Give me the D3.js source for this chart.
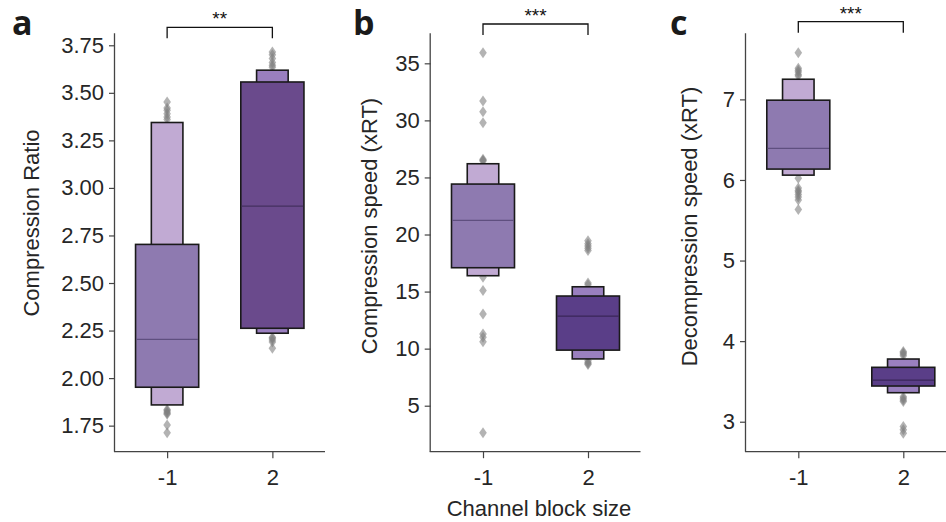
<!DOCTYPE html>
<html>
<head>
<meta charset="utf-8">
<script src="https://cdn.jsdelivr.net/npm/d3@7"></script>
<style>
  html, body { margin: 0; padding: 0; background: #fff; }
  svg { display: block; }
</style>
</head>
<body>
<svg id="chart" width="946" height="522"></svg>
<script>
// ---------------- DATA ----------------
const categories = ["-1", "2"];

// Panel a: Compression Ratio
const ratioMedian = [2.204, 2.904];
const ratioBox1 = [[1.952, 2.703], [2.262, 3.557]];
const ratioBox2 = [[1.859, 3.344], [2.236, 3.619]];
const ratioOutliers = [
  [3.452, 3.42, 3.408, 3.39, 3.373, 3.36, 1.835, 1.83, 1.822, 1.815, 1.81, 1.754, 1.713],
  [3.715, 3.70, 3.68, 3.66, 3.645, 3.635, 2.215, 2.209, 2.20, 2.19, 2.157]
];
const ratioTicks = [1.75, 2.00, 2.25, 2.50, 2.75, 3.00, 3.25, 3.50, 3.75];

// Panel b: Compression speed (xRT)
const compMedian = [21.24, 12.85];
const compBox1 = [[17.09, 24.42], [9.87, 14.61]];
const compBox2 = [[16.39, 26.2], [9.1, 15.42]];
const compOutliers = [
  [35.93, 31.7, 30.76, 29.8, 26.6, 26.5, 26.45, 16.25, 15.1, 13.03, 11.28, 11.0, 10.6, 2.63],
  [19.45, 19.2, 19.0, 18.8, 18.6, 15.75, 15.6, 8.95, 8.8, 8.7, 8.6]
];
const compTicks = [5, 10, 15, 20, 25, 30, 35];

// Panel c: Decompression speed (xRT)
const decMedian = [6.392, 3.517];
const decBox1 = [[6.135, 6.99], [3.443, 3.675]];
const decBox2 = [[6.06, 7.25], [3.36, 3.778]];
const decOutliers = [
  [7.578, 7.385, 7.36, 7.34, 7.31, 7.29, 6.02, 5.9, 5.87, 5.85, 5.82, 5.79, 5.75, 5.635],
  [3.87, 3.856, 3.84, 3.82, 3.31, 3.29, 3.27, 3.25, 2.94, 2.9, 2.856]
];
const decTicks = [3, 4, 5, 6, 7];

const yLabels = ["Compression Ratio", "Compression speed (xRT)", "Decompression speed (xRT)"];
const xLabel = "Channel block size";
const panelLetters = ["a", "b", "c"];
const sigStars = ["**", "***", "***"];

// ---------------- STYLE ----------------
const FONT = "'Liberation Sans', Arial, Helvetica, sans-serif";
const TEXT = "#262626";
const AXIS = "#444";
const boxColors = {
  a: [{ inner: "#8e7ab0", outer: "#c1aad3", med: "#5f4f7f" }, { inner: "#6a4a8c", outer: "#9a7fbf", med: "#45305f" }],
  b: [{ inner: "#8e7ab0", outer: "#c1aad3", med: "#5f4f7f" }, { inner: "#5a3e88", outer: "#9a80bf", med: "#3a2658" }],
  c: [{ inner: "#8e7ab0", outer: "#c1aad3", med: "#5f4f7f" }, { inner: "#5a3e88", outer: "#9a80bf", med: "#3a2658" }]
};

const panels = [
  { key: "a", median: ratioMedian, box1: ratioBox1, box2: ratioBox2, out: ratioOutliers, ticks: ratioTicks,
    fmt: d3.format(".2f"), yDomain: [1.613, 3.813], xRange: [114.5, 325], axisX: 115,
    label: yLabels[0], labelX: 39, labelY: 223, letterX: 12, bracketY: 27.3, starY: 25.3 },
  { key: "b", median: compMedian, box1: compBox1, box2: compBox2, out: compOutliers, ticks: compTicks,
    fmt: d3.format("d"), yDomain: [0.97, 37.63], xRange: [430.5, 640.5], axisX: 430.7,
    label: yLabels[1], labelX: 377, labelY: 226, letterX: 353, bracketY: 24, starY: 22 },
  { key: "c", median: decMedian, box1: decBox1, box2: decBox2, out: decOutliers, ticks: decTicks,
    fmt: d3.format("d"), yDomain: [2.628, 7.82], xRange: [745.8, 955.8], axisX: 746,
    label: yLabels[2], labelX: 697, labelY: 226.5, letterX: 670, bracketY: 21.7, starY: 19.6 }
];

const svg = d3.select("#chart");
const yTop = 33.3, yBottom = 451.7;

panels.forEach((p, pi) => {
  const g = svg.append("g");
  const y = d3.scaleLinear().domain(p.yDomain).range([yBottom, yTop]);
  const x = d3.scaleLinear().domain([-0.5, 1.5]).range(p.xRange);
  const band = x(1) - x(0);

  // outliers (diamonds)
  const diamond = (cx, cy) => `M${cx},${cy - 5.5}L${cx + 3.8},${cy}L${cx},${cy + 5.5}L${cx - 3.8},${cy}Z`;
  p.out.forEach((arr, ci) => {
    g.selectAll(null).data(arr).enter().append("path")
      .attr("d", v => diamond(x(ci), y(v)))
      .attr("fill", "#808080")
      .attr("fill-opacity", 0.6)
      .attr("stroke", "none");
  });

  // boxes
  categories.forEach((c, ci) => {
    const col = boxColors[p.key][ci];
    const b2 = p.box2[ci], b1 = p.box1[ci];
    const w2 = band * 0.3, w1 = band * 0.6;
    g.append("rect")
      .attr("x", x(ci) - w2 / 2).attr("width", w2)
      .attr("y", y(b2[1])).attr("height", y(b2[0]) - y(b2[1]))
      .attr("fill", col.outer).attr("stroke", "#1a1a1a").attr("stroke-width", 1.6);
    g.append("rect")
      .attr("x", x(ci) - w1 / 2).attr("width", w1)
      .attr("y", y(b1[1])).attr("height", y(b1[0]) - y(b1[1]))
      .attr("fill", col.inner).attr("stroke", "#1a1a1a").attr("stroke-width", 1.6);
    g.append("line")
      .attr("x1", x(ci) - w1 / 2 + 0.8).attr("x2", x(ci) + w1 / 2 - 0.8)
      .attr("y1", y(p.median[ci])).attr("y2", y(p.median[ci]))
      .attr("stroke", col.med).attr("stroke-width", 1.2);
  });

  // y axis
  const yAxis = d3.axisLeft(y).tickValues(p.ticks).tickFormat(p.fmt).tickSize(6).tickPadding(5);
  const ya = g.append("g").attr("transform", `translate(${p.axisX},0)`).call(yAxis);
  ya.select(".domain").attr("d", `M-0.5,${yTop}V${yBottom}`).attr("stroke", AXIS).attr("stroke-width", 1.3);
  ya.selectAll(".tick line").attr("stroke", AXIS).attr("stroke-width", 1.2);
  ya.selectAll(".tick text").attr("font-family", FONT).attr("font-size", 22).attr("fill", TEXT);

  // x axis
  const xAxis = d3.axisBottom(x).tickValues([0, 1]).tickFormat(i => categories[i]).tickSize(6.5).tickPadding(11);
  const xa = g.append("g").attr("transform", `translate(0,${yBottom})`).call(xAxis);
  xa.select(".domain").attr("d", `M${p.axisX - 1},0H${p.xRange[1]}`).attr("stroke", AXIS).attr("stroke-width", 1.3);
  xa.selectAll(".tick line").attr("stroke", AXIS).attr("stroke-width", 1.2);
  xa.selectAll(".tick text").attr("font-family", FONT).attr("font-size", 22).attr("fill", TEXT);

  // y label
  g.append("text")
    .attr("transform", `translate(${p.labelX},${p.labelY}) rotate(-90)`)
    .attr("text-anchor", "middle")
    .attr("font-family", FONT).attr("font-size", 22).attr("fill", TEXT)
    .text(p.label);

  // panel letter
  g.append("text")
    .attr("x", p.letterX).attr("y", 35)
    .attr("font-family", "'Open Sans', 'DejaVu Sans', sans-serif")
    .attr("font-weight", 700).attr("font-size", 34).attr("fill", "#1a1a1a")
    .text(panelLetters[pi]);

  // significance bracket
  const bx0 = x(0), bx1 = x(1), by = p.bracketY;
  g.append("path")
    .attr("d", `M${bx0},${by + 11}V${by}H${bx1}V${by + 11}`)
    .attr("fill", "none").attr("stroke", "#111").attr("stroke-width", 1.3);
  g.append("text")
    .attr("x", (bx0 + bx1) / 2).attr("y", p.starY)
    .attr("text-anchor", "middle")
    .attr("font-family", FONT).attr("font-size", 19).attr("fill", "#111")
    .text(sigStars[pi]);
});

// shared x label
svg.append("text")
  .attr("x", 539).attr("y", 516)
  .attr("text-anchor", "middle")
  .attr("font-family", FONT).attr("font-size", 22).attr("fill", TEXT)
  .text(xLabel);
</script>
</body>
</html>
